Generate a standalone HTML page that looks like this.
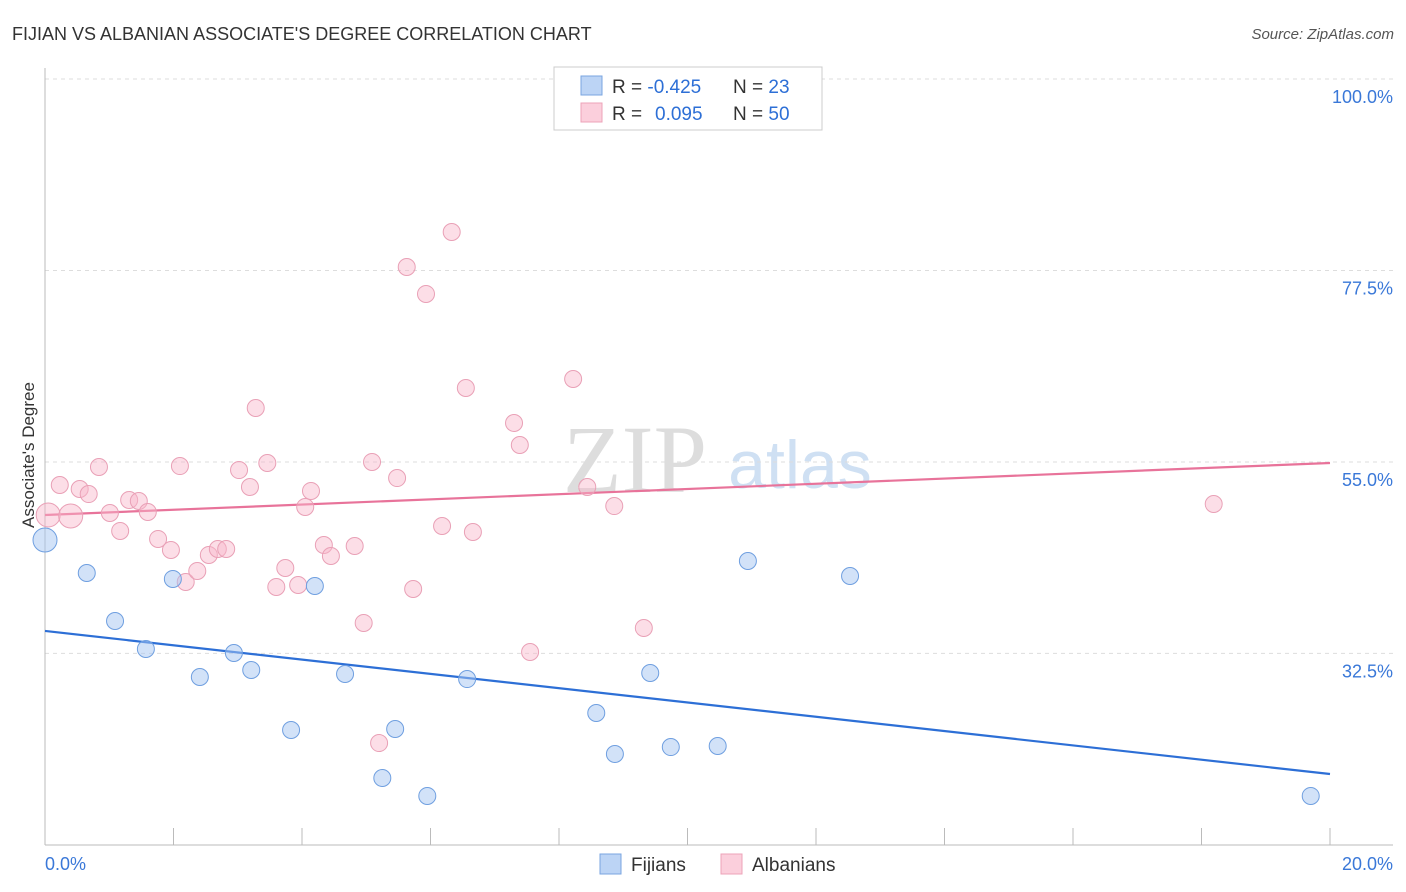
<!DOCTYPE html>
<html><head><meta charset="utf-8"><style>
body{margin:0;background:#fff;font-family:"Liberation Sans",sans-serif}
svg{display:block}
</style></head><body>
<svg width="1406" height="892" id="chart">
<text x="12" y="40" font-size="18" fill="#333">FIJIAN VS ALBANIAN ASSOCIATE'S DEGREE CORRELATION CHART</text>
<text x="1394" y="39" font-size="15" fill="#555" font-style="italic" text-anchor="end">Source: ZipAtlas.com</text>
<text x="635" y="492" font-size="96" fill="#ddd" font-family="Liberation Serif" text-anchor="middle">ZIP</text>
<text x="800" y="488" font-size="68" fill="#cfe0f3" text-anchor="middle">atlas</text>
<text transform="translate(34,455) rotate(-90)" font-size="17" fill="#333" text-anchor="middle">Associate's Degree</text>
<g id="grid"></g><g id="trend"></g><g id="pts"></g>
<g>
<rect x="554" y="67" width="268" height="63" fill="#fff" stroke="#ccc"/>
<rect x="581" y="76" width="21" height="19" fill="#bcd4f5" stroke="#7aa5e0"/>
<rect x="581" y="103" width="21" height="19" fill="#fbcfdc" stroke="#eca3b8"/>
<text x="612" y="93" font-size="19" fill="#333">R = <tspan fill="#2d6fd6">-0.425</tspan><tspan x="733">N = </tspan><tspan fill="#2d6fd6">23</tspan></text>
<text x="612" y="120" font-size="19" fill="#333">R = <tspan x="655" fill="#2d6fd6">0.095</tspan><tspan x="733">N = </tspan><tspan fill="#2d6fd6">50</tspan></text>
</g>
<g>
<rect x="600" y="854" width="21" height="20" fill="#bcd4f5" stroke="#7aa5e0"/>
<text x="631" y="871" font-size="19" fill="#333">Fijians</text>
<rect x="721" y="854" width="21" height="20" fill="#fbcfdc" stroke="#eca3b8"/>
<text x="752" y="871" font-size="19" fill="#333">Albanians</text>
</g>
</svg>
<script>
const yTicks=[100,77.5,55,32.5];
const yTickLabels=["100.0%","77.5%","55.0%","32.5%"];
const xTickLabels=["0.0%","20.0%"];
const fijianX=[0,0.65,1.09,1.57,1.99,2.41,2.94,3.21,3.83,4.20,4.67,5.25,5.45,5.95,6.57,8.58,8.87,9.42,9.74,10.47,10.94,12.53,19.70];
const fijianY=[45.83,41.95,36.31,33.02,41.25,29.73,32.55,30.55,23.50,40.42,30.08,17.86,23.62,15.75,29.49,25.50,20.68,30.20,21.50,21.62,43.36,41.60,15.75];
const albX=[0.05,0.40,0.23,0.54,0.68,0.84,1.01,1.17,1.31,1.46,1.60,1.76,1.96,2.10,2.19,2.37,2.55,2.69,2.82,3.02,3.19,3.28,3.46,3.60,3.74,3.94,4.05,4.14,4.34,4.45,4.82,4.96,5.09,5.20,5.48,5.63,5.73,5.93,6.18,6.33,6.55,6.66,7.30,7.39,7.55,8.22,8.44,8.86,9.32,18.19];
const albY=[48.77,48.65,52.29,51.82,51.23,54.41,49.00,46.89,50.53,50.41,49.12,45.95,44.65,54.52,40.89,42.19,44.07,44.77,44.77,54.05,52.06,61.34,54.88,40.31,42.54,40.54,49.71,51.59,45.24,43.95,45.12,36.08,55.00,21.97,53.11,77.91,40.07,74.74,47.47,82.02,63.69,46.77,59.58,56.99,32.67,64.75,52.06,49.82,35.49,50.06];
const fijianTrend=[35.14,18.33];
const albTrend=[48.77,54.88];
const NS="http://www.w3.org/2000/svg";
const X=v=>45+v*64.25, Y=v=>79+(100-v)*8.51;
function mk(t,a,p){const e=document.createElementNS(NS,t);for(const k in a)e.setAttribute(k,a[k]);p.appendChild(e);return e;}
const g=document.getElementById('grid');
yTicks.forEach((t,i)=>{
 const l=mk('line',{x1:45,x2:1393,y1:Y(t),y2:Y(t),stroke:'#ddd','stroke-dasharray':'4,4'},g);
 
 
 const tx=mk('text',{x:1393,y:Y(t)+24,'font-size':18,fill:'#3a78d8','text-anchor':'end'},g);
 tx.textContent=yTickLabels[i];
 
 
});
let ax=mk('line',{x1:45,x2:1393,y1:845,y2:845,stroke:'#bbb'},g);


let ay=mk('line',{x1:45,x2:45,y1:68,y2:845,stroke:'#bbb'},g);


for(let i=1;i<=10;i++){
 const t=mk('line',{x1:X(i*2),x2:X(i*2),y1:828,y2:845,stroke:'#bbb'},g);
 
 
}
[[0,'start',45],[20,'end',1393]].forEach((d,i)=>{
 const tx=mk('text',{x:d[2],y:870,'font-size':18,fill:'#3a78d8','text-anchor':d[1]},g);
 tx.textContent=xTickLabels[i];
 
 
});
const tr=document.getElementById('trend');
let l1=mk('line',{x1:X(0),x2:X(20),y1:Y(fijianTrend[0]),y2:Y(fijianTrend[1]),stroke:'#2d6fd6','stroke-width':2.2},tr);


let l2=mk('line',{x1:X(0),x2:X(20),y1:Y(albTrend[0]),y2:Y(albTrend[1]),stroke:'#e8739a','stroke-width':2.2},tr);


const p=document.getElementById('pts');
albX.forEach((x,i)=>{
 const c=mk('circle',{cx:X(x),cy:Y(albY[i]),r:i<2?12:8.5,fill:'rgba(248,182,202,0.45)',stroke:'#e9a0b6','stroke-width':1},p);
 
 
});
fijianX.forEach((x,i)=>{
 const c=mk('circle',{cx:X(x),cy:Y(fijianY[i]),r:i==0?12:8.5,fill:'rgba(165,198,242,0.5)',stroke:'#6f9fe0','stroke-width':1},p);
 
 
});
</script>
</body></html>
